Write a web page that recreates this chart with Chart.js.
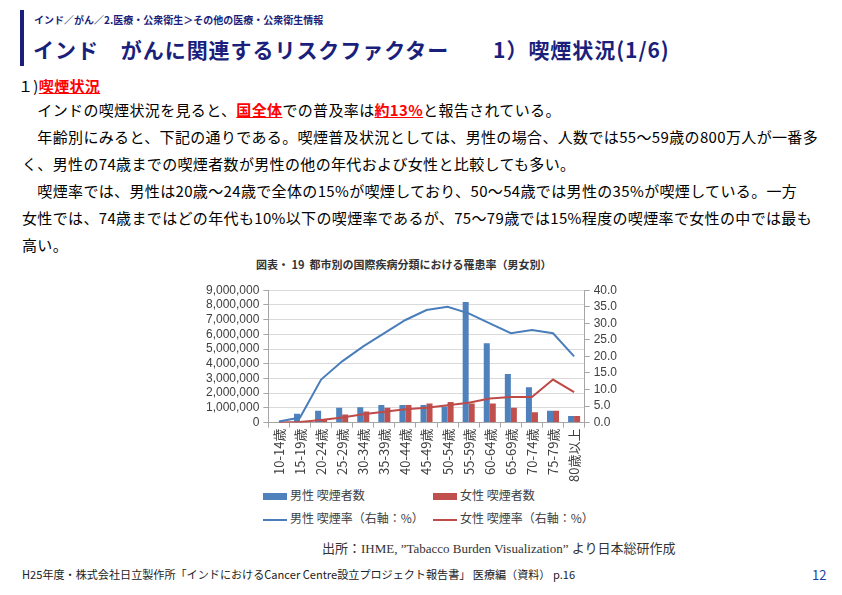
<!DOCTYPE html>
<html><head><meta charset="utf-8">
<script src="https://cdn.jsdelivr.net/npm/chart.js@4.4.1/dist/chart.umd.min.js"></script>
<style>
html,body{margin:0;padding:0;background:#fff;}
body{width:842px;height:595px;position:relative;overflow:hidden;font-family:"Noto Sans CJK JP","Noto Sans",sans-serif;color:#000;}
.abs{position:absolute;white-space:nowrap;}
#bar{left:20px;top:10px;width:4px;height:56px;background:#1b1f7c;}
#crumb{left:34px;top:12px;font-size:10px;font-weight:bold;color:#1b1f7c;}
#title{left:33px;top:34px;font-size:21px;font-weight:bold;color:#1b1f7c;letter-spacing:0.95px;}
.body{font-size:15px;left:22px;line-height:20px;letter-spacing:0.35px;}
.red{color:#ff0000;font-weight:bold;text-decoration:underline;}
#ctitle{left:256px;top:256px;font-size:11px;font-weight:bold;color:#333;}
#wrap{left:200px;top:279px;width:423px;height:204px;}
.leg{font-size:12px;color:#404040;}
.lbox{display:inline-block;width:24px;height:7px;vertical-align:middle;margin-right:3px;}
.lline{display:inline-block;width:24px;height:2px;vertical-align:middle;margin-right:3px;}
#src{left:322px;top:538px;font-size:13px;color:#333;font-family:"Liberation Serif","Noto Sans CJK JP",serif;}
#foot{left:22px;top:566px;font-size:11.1px;color:#222;}
#page{left:812px;top:565px;font-size:13px;color:#1b3fa0;}
</style></head>
<body>
<div class="abs" id="bar"></div>
<div class="abs" id="crumb">インド／がん／2.医療・公衆衛生＞その他の医療・公衆衛生情報</div>
<div class="abs" id="title">インド　がんに関連するリスクファクター　　1）喫煙状況(1/6)</div>
<div class="abs body" style="left:18px;top:76px;">１)<span class="red">喫煙状況</span></div>
<div class="abs body" style="top:100px;">　インドの喫煙状況を見ると、<span class="red">国全体</span>での普及率は<span class="red">約13%</span>と報告されている。</div>
<div class="abs body" style="top:127px;">　年齢別にみると、下記の通りである。喫煙普及状況としては、男性の場合、人数では55～59歳の800万人が一番多</div>
<div class="abs body" style="top:154px;">く、男性の74歳までの喫煙者数が男性の他の年代および女性と比較しても多い。</div>
<div class="abs body" style="top:181px;">　喫煙率では、男性は20歳～24歳で全体の15%が喫煙しており、50～54歳では男性の35%が喫煙している。一方</div>
<div class="abs body" style="top:208px;">女性では、74歳まではどの年代も10%以下の喫煙率であるが、75～79歳では15%程度の喫煙率で女性の中では最も</div>
<div class="abs body" style="top:235px;">高い。</div>
<div class="abs" id="ctitle">図表・ 19&nbsp; 都市別の国際疾病分類における罹患率（男女別）</div>
<div class="abs" id="wrap"><canvas id="c" width="423" height="204"></canvas></div>
<div class="abs leg" style="left:263px;top:486px;"><span class="lbox" style="background:#4f81bd"></span>男性 喫煙者数</div>
<div class="abs leg" style="left:433px;top:486px;"><span class="lbox" style="background:#c0504d"></span>女性 喫煙者数</div>
<div class="abs leg" style="left:263px;top:509px;"><span class="lline" style="background:#4a7ebb"></span>男性 喫煙率（右軸：%）</div>
<div class="abs leg" style="left:433px;top:509px;"><span class="lline" style="background:#be4b48"></span>女性 喫煙率（右軸：%）</div>
<div class="abs" id="src">出所：IHME, ”Tabacco Burden Visualization” より日本総研作成</div>
<div class="abs" id="foot">H25年度・株式会社日立製作所「インドにおけるCancer Centre設立プロジェクト報告書」 医療編（資料） p.16</div>
<div class="abs" id="page">12</div>
<script>
const categories = ["10-14歳","15-19歳","20-24歳","25-29歳","30-34歳","35-39歳","40-44歳","45-49歳","50-54歳","55-59歳","60-64歳","65-69歳","70-74歳","75-79歳","80歳以上"];
const maleSmokers = [40000,600000,800000,1000000,1050000,1200000,1200000,1200000,1100000,8200000,5400000,3300000,2400000,800000,450000];
const femaleSmokers = [10000,30000,250000,550000,750000,1000000,1200000,1300000,1400000,1300000,1300000,1000000,700000,800000,450000];
const maleRate = [0.3,1.5,13,18.5,23,27,31,34,35,33,30,27,28,27,20];
const femaleRate = [0,0.2,0.8,1.5,2.5,3.3,4,4.5,5.2,6,7.3,7.7,7.7,13,9.2];
const leftTicksMax = 9000000;
const rightTicksMax = 40;

const tickFont = {family:"'Liberation Sans','Noto Sans CJK JP',sans-serif", size:12};
const xFont = {family:"'Noto Sans CJK JP',sans-serif", size:13};
new Chart(document.getElementById('c'), {
  data: {
    labels: categories,
    datasets: [
      {type:'line', label:'男性 喫煙率（右軸：%）', data:maleRate, yAxisID:'y1', borderColor:'#4a7ebb', borderWidth:2, pointRadius:0, tension:0, order:0},
      {type:'line', label:'女性 喫煙率（右軸：%）', data:femaleRate, yAxisID:'y1', borderColor:'#be4b48', borderWidth:2, pointRadius:0, tension:0, order:0},
      {type:'bar', label:'男性 喫煙者数', data:maleSmokers, yAxisID:'y', backgroundColor:'#4f81bd', categoryPercentage:0.57, barPercentage:1.0, order:1},
      {type:'bar', label:'女性 喫煙者数', data:femaleSmokers, yAxisID:'y', backgroundColor:'#c0504d', categoryPercentage:0.57, barPercentage:1.0, order:1}
    ]
  },
  options: {
    responsive:false, animation:false,
    layout:{padding:{top:6,left:2,right:2,bottom:0}},
    plugins:{legend:{display:false}, tooltip:{enabled:false}},
    scales:{
      x:{
        offset:true,
        grid:{offset:true, drawOnChartArea:false, drawTicks:true, tickLength:5, color:'#a6a6a6'},
        border:{color:'#a6a6a6'},
        ticks:{font:xFont, color:'#404040', minRotation:90, maxRotation:90, autoSkip:false, padding:1}
      },
      y:{
        position:'left', min:0, max:leftTicksMax,
        grid:{color:'#d9d9d9', tickLength:5, tickColor:'#a6a6a6'},
        border:{color:'#a6a6a6'},
        ticks:{stepSize:1000000, autoSkip:false, font:tickFont, color:'#404040', padding:4, callback:v=>v.toLocaleString('en-US')}
      },
      y1:{
        position:'right', min:0, max:rightTicksMax,
        grid:{drawOnChartArea:false, tickLength:5, color:'#a6a6a6'},
        border:{color:'#a6a6a6'},
        ticks:{stepSize:5, autoSkip:false, font:tickFont, color:'#404040', padding:4, callback:v=>v.toFixed(1)}
      }
    }
  }
});
</script>
</body></html>
